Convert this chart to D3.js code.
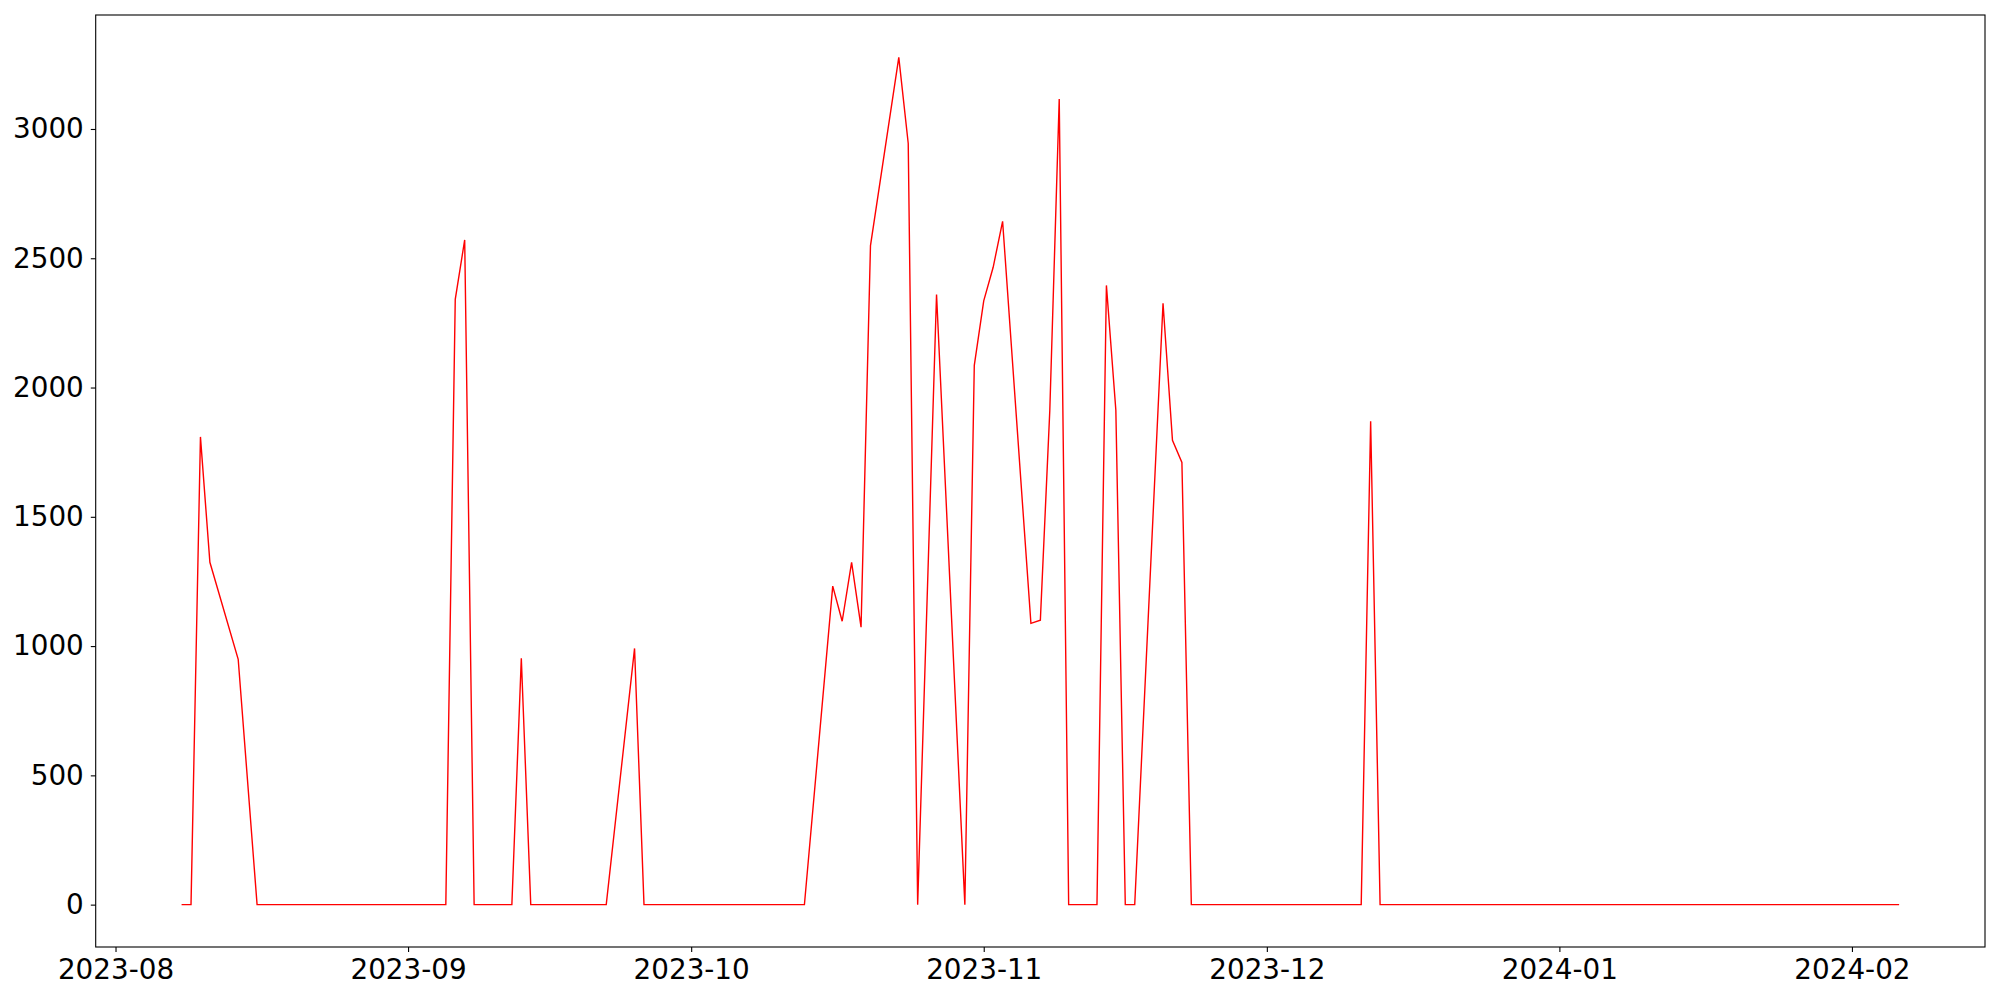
<!DOCTYPE html>
<html>
<head>
<meta charset="utf-8">
<script src="https://cdn.jsdelivr.net/npm/d3@7"></script>
<style>
  body { margin: 0; background: #fff; }
  text { font-family: "DejaVu Sans", sans-serif; }
</style>
</head>
<body>
<script>
// dates (yyyy-mm-dd) and values, only where the line bends
const dates = [
  "2023-08-08", "2023-08-09", "2023-08-10", "2023-08-11", "2023-08-14", "2023-08-16",
  "2023-09-05", "2023-09-06", "2023-09-07", "2023-09-08", "2023-09-12", "2023-09-13",
  "2023-09-14", "2023-09-22", "2023-09-25", "2023-09-26",
  "2023-10-13", "2023-10-16", "2023-10-17", "2023-10-18", "2023-10-19", "2023-10-20",
  "2023-10-23", "2023-10-24", "2023-10-25", "2023-10-27", "2023-10-30", "2023-10-31",
  "2023-11-01", "2023-11-02", "2023-11-03", "2023-11-06", "2023-11-07", "2023-11-08",
  "2023-11-09", "2023-11-10", "2023-11-13", "2023-11-14", "2023-11-15", "2023-11-16",
  "2023-11-17", "2023-11-20", "2023-11-21", "2023-11-22", "2023-11-23",
  "2023-12-11", "2023-12-12", "2023-12-13",
  "2024-02-06"
]
const values = [
  0, 0, 1809, 1324, 949, 0,
  0, 2341, 2571, 0, 0, 953,
  0, 0, 991, 0,
  0, 1232, 1096, 1324, 1073, 2549,
  3277, 2944, 0, 2360, 0, 2086,
  2335, 2465, 2643, 1088, 1100, 1910,
  3116, 0, 0, 2395, 1912, 0,
  0, 2326, 1796, 1710, 0,
  0, 1870, 0,
  0
]
const yTicks = [0, 500, 1000, 1500, 2000, 2500, 3000]

const W = 2000, H = 1000
const margin = { top: 15, right: 15, bottom: 53, left: 95.7 }

const parse = d3.utcParse("%Y-%m-%d")
const data = dates.map((d, i) => ({ date: parse(d), value: values[i] }))

const svg = d3.select("body").append("svg")
    .attr("width", W)
    .attr("height", H)

// matplotlib style 5% margins on both axes
const xExt = d3.extent(data, d => d.date)
const span = xExt[1] - xExt[0]
const x = d3.scaleUtc()
    .domain([new Date(+xExt[0] - span * 0.05), new Date(+xExt[1] + span * 0.05)])
    .range([margin.left, W - margin.right])

const yMin = d3.min(values), yMax = d3.max(values)
const ySpan = yMax - yMin
const y = d3.scaleLinear()
    .domain([yMin - ySpan * 0.05, yMax + ySpan * 0.05])
    .range([H - margin.bottom, margin.top])

const fontSize = 27.8

// x axis
const xAxis = d3.axisBottom(x)
    .ticks(d3.utcMonth.every(1))
    .tickFormat(d3.utcFormat("%Y-%m"))
    .tickSize(4.9)
    .tickPadding(7)
const gx = svg.append("g")
    .attr("transform", `translate(0,${H - margin.bottom})`)
    .call(xAxis)
gx.select(".domain").remove()
gx.selectAll("line").attr("stroke", "#000").attr("stroke-width", 1.1)
gx.selectAll("text")
    .attr("font-size", fontSize)
    .attr("fill", "#000")
    .attr("font-family", "DejaVu Sans")

// y axis
const yAxis = d3.axisLeft(y)
    .tickValues(yTicks)
    .tickFormat(d3.format("d"))
    .tickSize(4.9)
    .tickPadding(7)
const gy = svg.append("g")
    .attr("transform", `translate(${margin.left},0)`)
    .call(yAxis)
gy.select(".domain").remove()
gy.selectAll("line").attr("stroke", "#000").attr("stroke-width", 1.1)
gy.selectAll("text")
    .attr("font-size", fontSize)
    .attr("fill", "#000")
    .attr("font-family", "DejaVu Sans")

// the line
const line = d3.line()
    .x(d => x(d.date))
    .y(d => y(d.value))

svg.append("path")
    .datum(data)
    .attr("fill", "none")
    .attr("stroke", "red")
    .attr("stroke-width", 1.4)
    .attr("stroke-linejoin", "miter")
    .attr("d", line)

// frame
svg.append("rect")
    .attr("x", margin.left)
    .attr("y", margin.top)
    .attr("width", W - margin.right - margin.left)
    .attr("height", H - margin.bottom - margin.top)
    .attr("fill", "none")
    .attr("stroke", "#000")
    .attr("stroke-width", 1.1)
</script>
</body>
</html>
